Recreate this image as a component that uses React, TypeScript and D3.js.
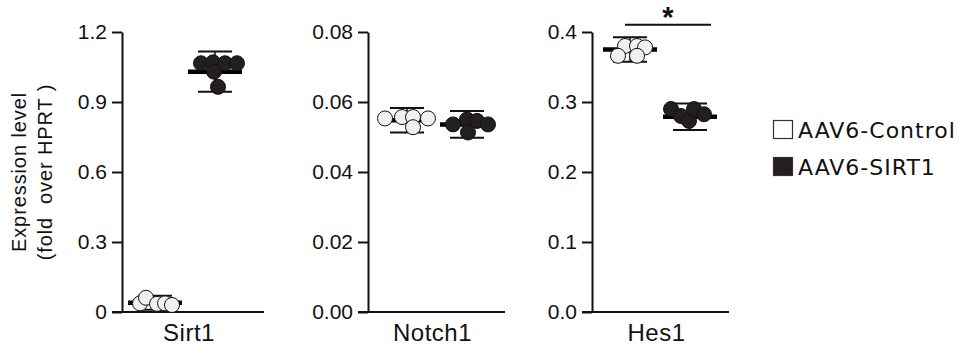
import React, { useEffect, useRef } from "react";
import * as d3 from "d3";

// genes and groups
const genes = ["Sirt1", "Notch1", "Hes1"];
const groups = ["AAV6-Control", "AAV6-SIRT1"];

// y axes per gene
const yMax = [1.2, 0.08, 0.4];
const yTicks = [
  [0, 0.3, 0.6, 0.9, 1.2],
  [0, 0.02, 0.04, 0.06, 0.08],
  [0, 0.1, 0.2, 0.3, 0.4],
];
const yTickLabels = [
  ["0", "0.3", "0.6", "0.9", "1.2"],
  ["0.00", "0.02", "0.04", "0.06", "0.08"],
  ["0.0", "0.1", "0.2", "0.3", "0.4"],
];

// individual samples, [control, sirt1] for each gene
const sirt1Values = [
  [0.037, 0.061, 0.035, 0.037, 0.03],
  [1.066, 1.07, 1.03, 0.965, 1.066, 1.066],
];
const notch1Values = [
  [0.0553, 0.0557, 0.0557, 0.0528, 0.0553],
  [0.0536, 0.055, 0.0513, 0.0546, 0.0536],
];
const hes1Values = [
  [0.38, 0.38, 0.378, 0.366, 0.366],
  [0.29, 0.28, 0.273, 0.29, 0.2825],
];
const values = [sirt1Values, notch1Values, hes1Values];

// mean and SD as drawn
const means = [
  [0.04, 1.03],
  [0.0548, 0.0536],
  [0.375, 0.279],
];
const sds = [
  [0.03, 0.086],
  [0.0035, 0.0038],
  [0.0175, 0.019],
];

// significance marks
const sigGene = ["Hes1"];
const sigLabel = ["*"];
const sigLevel = [0.4105];

// horizontal scatter of the dots (px, layout only)
const jitter = [
  [
    [-15, -9, 2, 10, 17],
    [-14, -2, -1, 3, 10, 22],
  ],
  [
    [-22, -5, 6, 6, 21],
    [-14, 0, 1, 10, 21],
  ],
  [
    [-5, 7, 15, -12, 7],
    [-19, -9, -1, 4, 14],
  ],
];

const fills = ["#f0f0f0", "#231f20"];
const ink = "#111";

export default function App() {
  const ref = useRef<SVGSVGElement>(null);

  useEffect(() => {
    const svg = d3.select(ref.current);
    svg.selectAll("*").remove();

    const top = 32;
    const bottom = 312;
    const panelX = [122, 368, 592];
    const panelW = [142, 137, 137];
    const shift = [-6, 0, -1];
    const font = "'Liberation Sans', Arial, sans-serif";

    genes.forEach((gene, gi) => {
      const g = svg.append("g").attr("transform", `translate(${panelX[gi]},0)`);
      const y = d3.scaleLinear().domain([0, yMax[gi]]).range([bottom, top]);
      const x = d3
        .scalePoint()
        .domain(groups)
        .range([shift[gi], shift[gi] + 138])
        .padding(0.65);

      // y axis
      const axis = d3
        .axisLeft(y)
        .tickValues(yTicks[gi])
        .tickFormat((d, i) => yTickLabels[gi][i])
        .tickSize(10)
        .tickSizeOuter(0)
        .tickPadding(5);
      const ax = g.append("g").call(axis);
      ax.select(".domain").attr("stroke", ink).attr("stroke-width", 2);
      ax.selectAll(".tick line").attr("stroke", ink).attr("stroke-width", 2);
      ax.selectAll(".tick text")
        .attr("fill", ink)
        .style("font-family", font)
        .style("font-size", "21px");

      // x axis baseline
      g.append("line")
        .attr("x1", -10)
        .attr("x2", panelW[gi])
        .attr("y1", y(0))
        .attr("y2", y(0))
        .attr("stroke", ink)
        .attr("stroke-width", 2);

      g.append("text")
        .attr("x", panelW[gi] / 2 - 4)
        .attr("y", 341)
        .attr("text-anchor", "middle")
        .style("font-family", font)
        .style("font-size", "24px")
        .style("letter-spacing", "0.5px")
        .attr("fill", ink)
        .text(gene);

      groups.forEach((grp, k) => {
        const cx = x(grp) as number;
        const m = means[gi][k];
        const s = sds[gi][k];

        // error bar
        g.append("line")
          .attr("x1", cx).attr("x2", cx)
          .attr("y1", y(m + s)).attr("y2", y(Math.max(0, m - s)))
          .attr("stroke", ink).attr("stroke-width", 1.5);
        [m + s, m - s].forEach((v) => {
          if (v < 0) return;
          g.append("line")
            .attr("x1", cx - 17).attr("x2", cx + 17)
            .attr("y1", y(v)).attr("y2", y(v))
            .attr("stroke", ink).attr("stroke-width", 2);
        });

        // mean
        g.append("line")
          .attr("x1", cx - 27).attr("x2", cx + 27)
          .attr("y1", y(m)).attr("y2", y(m))
          .attr("stroke", "#000").attr("stroke-width", 4.5);

        // dots
        g.selectAll(null)
          .data(values[gi][k])
          .enter()
          .append("circle")
          .attr("cx", (d, i) => cx + jitter[gi][k][i])
          .attr("cy", (d) => y(d))
          .attr("r", 7.5)
          .attr("fill", fills[k])
          .attr("stroke", ink)
          .attr("stroke-width", 1);
      });

      sigGene.forEach((sg, si) => {
        if (sg !== gene) return;
        const x1 = (x(groups[0]) as number) - 5;
        const x2 = (x(groups[1]) as number) + 21;
        const yy = y(sigLevel[si]);
        g.append("line")
          .attr("x1", x1).attr("x2", x2)
          .attr("y1", yy).attr("y2", yy)
          .attr("stroke", ink).attr("stroke-width", 2);
        g.append("text")
          .attr("x", (x1 + x2) / 2)
          .attr("y", yy + 2)
          .attr("text-anchor", "middle")
          .style("font-family", font)
          .style("font-size", "29px")
          .style("font-weight", "bold")
          .attr("fill", ink)
          .text(sigLabel[si]);
      });
    });

    // y axis title
    const title = svg
      .append("text")
      .attr("transform", "translate(26,172) rotate(-90)")
      .attr("text-anchor", "middle")
      .style("font-family", font)
      .style("font-size", "20px")
      .style("letter-spacing", "0.9px")
      .attr("fill", ink);
    title.append("tspan").attr("x", 0).attr("y", 0).text("Expression level");
    title
      .append("tspan")
      .attr("x", 0)
      .attr("y", 26)
      .style("white-space", "pre")
      .text("(fold  over HPRT )");

    // legend
    const leg = svg.append("g").attr("transform", "translate(773,120)");
    groups.forEach((grp, k) => {
      leg.append("rect")
        .attr("x", 0.5)
        .attr("y", k * 37 + 0.5)
        .attr("width", 19)
        .attr("height", 18)
        .attr("fill", k === 0 ? "#fff" : fills[1])
        .attr("stroke", "#333")
        .attr("stroke-width", 1.2);
      leg.append("text")
        .attr("x", 25)
        .attr("y", k * 37 + 18)
        .style("font-family", "'DejaVu Sans', Verdana, sans-serif")
        .style("font-size", "22px")
        .style("letter-spacing", "1px")
        .attr("fill", ink)
        .text(grp);
    });
  }, []);

  return (
    <svg
      ref={ref}
      width={964}
      height={348}
      style={{ position: "absolute", left: 0, top: 0, background: "#fff" }}
    />
  );
}
